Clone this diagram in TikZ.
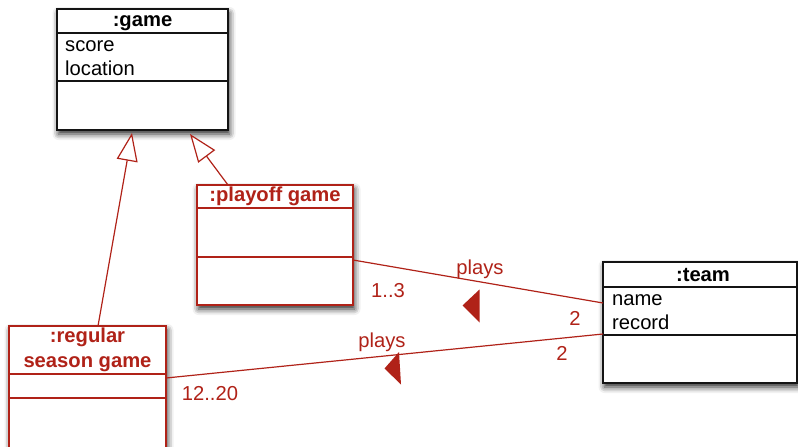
\documentclass[tikz,border=0pt]{standalone}
\usepackage{fontspec}
\setmainfont{Liberation Sans}
\usetikzlibrary{calc,arrows.meta,shadows.blur}

\definecolor{umlred}{RGB}{176,34,24}
\definecolor{umldark}{RGB}{20,20,20}

\tikzset{
  classbox/.style={draw, line width=1.4pt, fill=white, anchor=north west,
    inner sep=0pt, outer sep=0pt,
    blur shadow={shadow xshift=1.5pt, shadow yshift=-4pt,
      shadow blur radius=6pt, shadow opacity=85}},
  blackbox/.style={classbox, draw=umldark},
  redbox/.style={classbox, draw=umlred},
  sep/.style={line width=1.2pt},
  txt/.style={font=\fontsize{20.2}{24}\selectfont, inner sep=0pt},
  head/.style={txt, font=\fontsize{20.2}{24}\selectfont\bfseries, anchor=base},
  attr/.style={txt, anchor=base west},
  redtxt/.style={txt, text=umlred, anchor=base},
  assoc/.style={draw=umlred, line width=1.2pt},
  inherit/.style={draw=umlred, line width=1.2pt,
    -{Triangle[open, length=28pt, width=21pt, fill=white]}},
  dirmark/.style={fill=umlred},
}

\begin{document}
\begin{tikzpicture}[x=1pt, y=-1pt]
  \useasboundingbox (0,0) rectangle (798,447);

  % --- class boxes ---
  \node[blackbox, minimum width=171, minimum height=121] (game) at (57,9) {};
  \draw[sep, umldark] ($(game.north west)+(0,24)$) -- ($(game.north east)+(0,24)$);
  \draw[sep, umldark] ($(game.north west)+(0,72)$) -- ($(game.north east)+(0,72)$);
  \node[head] (gameh) at (142.5,27) {:game};
  \node[attr] (game1) at (65,51) {score};
  \node[attr] (game2) at (65,75) {location};

  \node[redbox, minimum width=156, minimum height=120] (playoff) at (197,185) {};
  \draw[sep, umlred] ($(playoff.north west)+(0,23)$) -- ($(playoff.north east)+(0,23)$);
  \draw[sep, umlred] ($(playoff.north west)+(0,72)$) -- ($(playoff.north east)+(0,72)$);
  \node[head, text=umlred] (playoffh) at (275,201) {:playoff game};

  \node[redbox, minimum width=157, minimum height=140] (regular) at (9,326) {};
  \draw[sep, umlred] ($(regular.north west)+(0,48)$) -- ($(regular.north east)+(0,48)$);
  \draw[sep, umlred] ($(regular.north west)+(0,72)$) -- ($(regular.north east)+(0,72)$);
  \node[head, text=umlred] (regularh1) at (87.5,342) {:regular};
  \node[head, text=umlred] (regularh2) at (87.5,367) {season game};

  \node[blackbox, minimum width=194, minimum height=121] (team) at (603,262) {};
  \draw[sep, umldark] ($(team.north west)+(0,25)$) -- ($(team.north east)+(0,25)$);
  \draw[sep, umldark] ($(team.north west)+(0,73)$) -- ($(team.north east)+(0,73)$);
  \node[head] (teamh) at (703,281) {:team};
  \node[attr] (team1) at (612,305) {name};
  \node[attr] (team2) at (612,329) {record};

  % --- generalizations ---
  \draw[inherit] ($(regular.north west)+(89,0)$) -- ($(game.south west)+(75,3)$);
  \draw[inherit] ($(playoff.north west)+(31,0)$) -- ($(game.south west)+(133,4)$);

  % --- associations ---
  \draw[assoc] ($(playoff.north east)+(0,75)$) -- ($(team.north west)+(0,41)$);
  \draw[assoc] ($(regular.north east)+(0,52)$) -- ($(team.north west)+(0,72)$);

  % reading-direction markers
  \fill[dirmark] (462.5,305.5) -- (479.5,289.5) -- (479.5,322.5) -- cycle;
  \fill[dirmark] (384.5,368.5) -- (399,352) -- (401,384.5) -- cycle;

  % --- association labels ---
  \node[redtxt] (l1) at (480,274) {plays};
  \node[redtxt] (l2) at (388,297) {1..3};
  \node[redtxt] (l3) at (575,325) {2};
  \node[redtxt] (l4) at (382,347) {plays};
  \node[redtxt] (l5) at (562,360) {2};
  \node[redtxt] (l6) at (210,400) {12..20};
\end{tikzpicture}
\end{document}
